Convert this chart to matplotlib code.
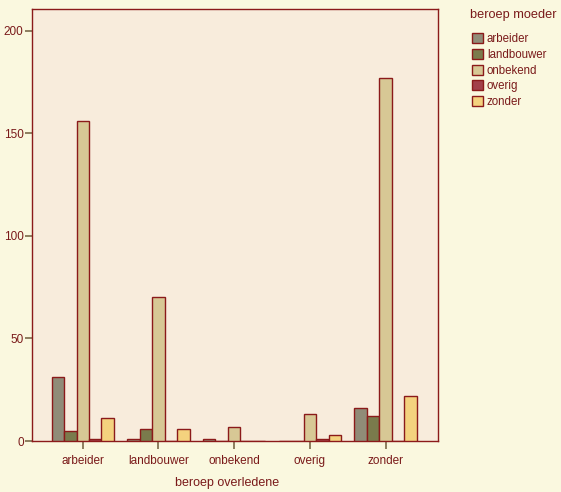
import numpy as np
import matplotlib.pyplot as plt

plt.rcParams['font.family'] = ['Liberation Sans', 'DejaVu Sans']

groups = ["arbeider", "landbouwer", "onbekend", "overig", "zonder"]
mother = ["arbeider", "landbouwer", "onbekend", "overig", "zonder"]
counts = {
    "arbeider":   [31, 1, 1, 0, 16],
    "landbouwer": [5, 6, 0, 0, 12],
    "onbekend":   [156, 70, 7, 13, 177],
    "overig":     [1, 0, 0, 1, 0],
    "zonder":     [11, 6, 0, 3, 22],
}
colors = ["#908c78", "#7a7b4c", "#d7c895", "#a2404a", "#f4d27e"]

txt = "#7a1a1a"
edge = "#8b1a1a"

fig = plt.figure(figsize=(5.61, 4.92), dpi=100, facecolor="#faf8df")
ax = fig.add_axes([32/561, 51/492, 406/561, 432/492])
ax.set_facecolor("#f8ecdc")

x = np.arange(len(groups))
w = 0.165
for i, m in enumerate(mother):
    ax.bar(x + (i - 2) * w, counts[m], w, color=colors[i], edgecolor=edge,
           linewidth=1.0, label=m, zorder=3)

ax.set_xlim(-0.67, 4.69)
ax.set_ylim(0, 210.7)
ax.set_yticks([0, 50, 100, 150, 200])
ax.set_xticks(x)
ax.set_xticklabels(groups)
ax.tick_params(axis="both", colors=txt, labelsize=8.5, direction="out")
ax.tick_params(axis="x", length=6, width=1.2, color="#7a6a4a", pad=4)
ax.tick_params(axis="y", length=5, width=1.2, color="#7a6a4a", pad=1)
for s in ax.spines.values():
    s.set_color(edge)
    s.set_linewidth(1.0)
ax.set_xlabel("beroep overledene", color=txt, fontsize=9)
ax.xaxis.set_label_coords(0.48, -0.083)

fig.text(470/561, 1 - 15/492, "beroep moeder", color=txt, fontsize=9.2,
         ha="left", va="center")
leg = fig.legend(loc="upper left", bbox_to_anchor=(472/561, 1 - 33/492),
                 frameon=False, fontsize=8.3,
                 handlelength=0.95, handleheight=0.95,
                 handletextpad=0.35, labelspacing=0.33, borderaxespad=0,
                 borderpad=0)
for t in leg.get_texts():
    t.set_color(txt)

fig.savefig("out.png", dpi=100, facecolor=fig.get_facecolor())
